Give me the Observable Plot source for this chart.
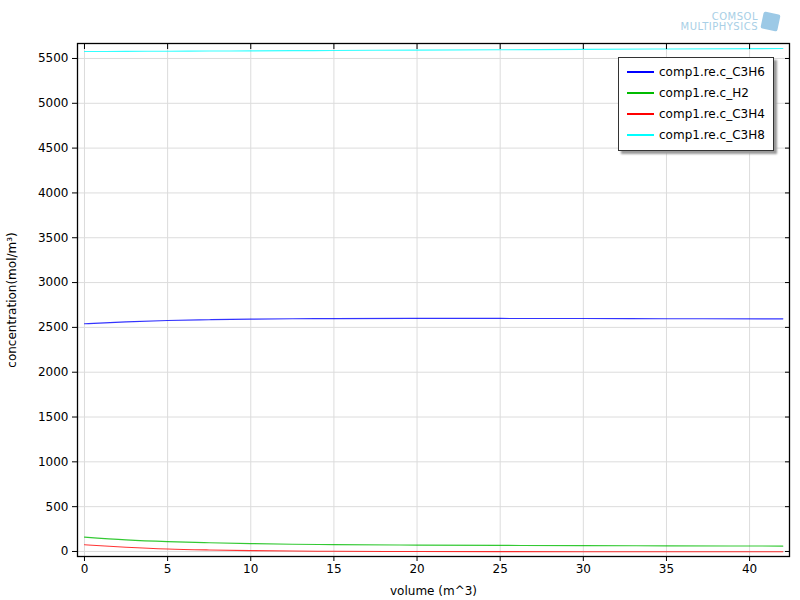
<!DOCTYPE html>
<html><head><meta charset="utf-8">
<script src="https://cdn.jsdelivr.net/npm/d3@7"></script>
<script src="https://cdn.jsdelivr.net/npm/@observablehq/plot@0.6"></script>
<style>
body{margin:0;background:#fff;font-family:"DejaVu Sans",sans-serif;}
#wrap{position:relative;width:800px;height:600px;}
#legend{position:absolute;left:618px;top:57px;width:156px;height:94px;border:1px solid #333;background:#fff;box-shadow:3px 3px 2px #999;font-size:12px;color:#000;box-sizing:border-box;padding-top:3px;}
.li{height:21px;display:flex;align-items:center;}
.sw{width:27px;height:2px;margin-left:8px;margin-right:5px;}
#logo{position:absolute;left:668px;top:12px;color:#a8cfe6;font-size:10px;line-height:10px;text-align:right;width:90px;letter-spacing:0.5px;}
#cube{position:absolute;left:762px;top:13px;width:17px;height:17px;background:#9cc9e6;transform:rotate(12deg);border-radius:2px;}
</style></head>
<body><div id="wrap"></div>
<script>
const volume = [0, 2.5, 5, 7.5, 10, 12.5, 15, 20, 25, 30, 35, 42];
const c_C3H6 = [2540, 2562, 2577, 2586, 2592, 2596, 2598, 2600, 2600, 2599, 2597, 2595];
const c_H2   = [160, 130, 110, 97, 88, 81, 76, 71, 68, 65, 63, 60];
const c_C3H4 = [75, 48, 28, 17, 10, 5, 2, 0, -2, -3, -3, -3];
const c_C3H8 = [5578, 5579, 5581, 5583, 5585, 5587, 5589, 5593, 5597, 5602, 5606, 5611];
const seriesNames = ["comp1.re.c_C3H6", "comp1.re.c_H2", "comp1.re.c_C3H4", "comp1.re.c_C3H8"];
const seriesColors = ["#0000ff", "#00bb00", "#ff0000", "#00ffff"];
const xTicks = [0, 5, 10, 15, 20, 25, 30, 35, 40];
const yTicks = [0, 500, 1000, 1500, 2000, 2500, 3000, 3500, 4000, 4500, 5000, 5500];

const seriesValues = [c_C3H6, c_H2, c_C3H4, c_C3H8];
const rows = [];
seriesValues.forEach((vals, i) => vals.forEach((v, j) => rows.push({x: volume[j], y: v, s: seriesNames[i]})));

const chart = Plot.plot({
  width: 800, height: 600,
  marginLeft: 77, marginRight: 11, marginTop: 43, marginBottom: 44,
  style: {fontFamily: "DejaVu Sans, sans-serif", fontSize: "12px", color: "#000"},
  x: {domain: [-0.42, 42.4]},
  y: {domain: [-56, 5667]},
  color: {domain: seriesNames, range: seriesColors},
  marks: [
    Plot.gridX(xTicks, {stroke: "#dcdcdc", strokeOpacity: 1}),
    Plot.gridY(yTicks, {stroke: "#dcdcdc", strokeOpacity: 1}),
    Plot.line(rows, {x: "x", y: "y", z: "s", stroke: "s", strokeWidth: 1.1, strokeOpacity: 0.8, curve: "monotone-x"}),
    Plot.axisX(xTicks, {anchor: "bottom", tickSize: 5, tickPadding: 3, fontSize: 12, label: "volume (m^3)", labelAnchor: "center", labelArrow: "none", labelOffset: 38}),
    Plot.axisX(xTicks, {anchor: "top", tickSize: -5, tickFormat: () => "", label: null}),
    Plot.axisY(yTicks, {anchor: "left", tickSize: 5, tickPadding: 4, fontSize: 12, tickFormat: d3.format("d"), label: "concentration(mol/m³)", labelAnchor: "center", labelArrow: "none", labelOffset: 70}),
    Plot.axisY(yTicks, {anchor: "right", tickSize: -5, tickFormat: () => "", label: null}),
    Plot.frame({stroke: "#000", strokeWidth: 1.3})
  ]
});
const wrap = document.getElementById("wrap");
wrap.appendChild(chart);

const leg = document.createElement("div");
leg.id = "legend";
seriesNames.forEach((n, i) => {
  const li = document.createElement("div"); li.className = "li";
  const sw = document.createElement("div"); sw.className = "sw"; sw.style.background = seriesColors[i];
  const t = document.createElement("span"); t.textContent = n;
  li.appendChild(sw); li.appendChild(t); leg.appendChild(li);
});
wrap.appendChild(leg);
const logo = document.createElement("div"); logo.id = "logo";
logo.innerHTML = "COMSOL<br>MULTIPHYSICS";
wrap.appendChild(logo);
const cube = document.createElement("div"); cube.id = "cube"; wrap.appendChild(cube);
</script></body></html>
